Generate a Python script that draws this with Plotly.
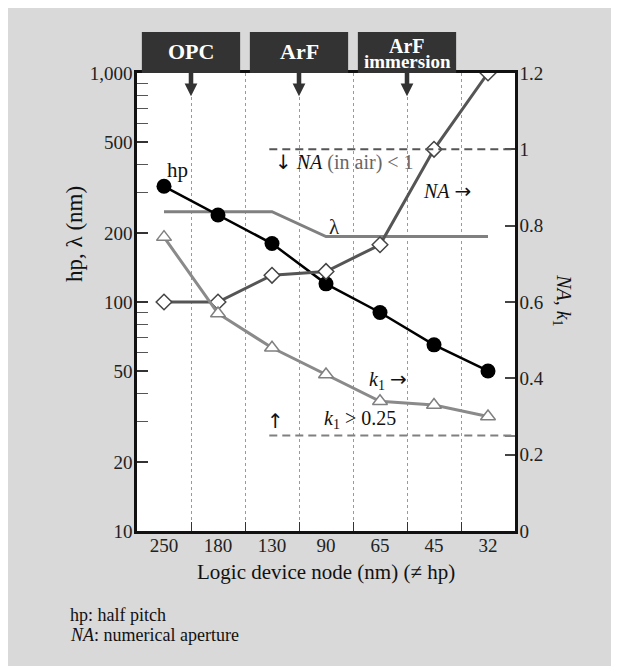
import plotly.graph_objects as go

# ---- data ----
nodes = ["250", "180", "130", "90", "65", "45", "32"]          # logic device node (nm)
hp = [320, 240, 180, 120, 90, 65, 50]                            # half pitch (nm)
wavelength = [248, 248, 248, 193, 193, 193, 193]                 # exposure wavelength (nm)
na = [0.60, 0.60, 0.67, 0.68, 0.75, 1.00, 1.20]                  # numerical aperture
k1 = [0.77, 0.57, 0.48, 0.41, 0.34, 0.33, 0.30]                  # k1 factor
na_limit = 1.0
k1_limit = 0.25
steps = ["OPC", "ArF", "ArF|immersion"]
step_at = [0.5, 2.5, 4.5]      # between nodes

left_ticks = [10, 20, 50, 100, 200, 500, 1000]
left_text = ["10", "20", "50", "100", "200", "500", "1,000"]
left_minor = [30, 40, 60, 70, 80, 90, 300, 400, 600, 700, 800, 900]
right_ticks = [0, 0.2, 0.4, 0.6, 0.8, 1.0, 1.2]
right_text = ["0", "0.2", "0.4", "0.6", "0.8", "1", "1.2"]

FONT = "Liberation Serif"
ARW = "font-family:'DejaVu Sans'"
xi = list(range(len(nodes)))

fig = go.Figure()
fig.add_trace(go.Scatter(x=xi, y=wavelength, mode="lines",
                         line=dict(color="#808080", width=3), yaxis="y", name="λ"))
fig.add_trace(go.Scatter(x=xi, y=hp, mode="lines+markers",
                         line=dict(color="#000000", width=2.5),
                         marker=dict(symbol="circle", size=15, color="#000000"),
                         yaxis="y", name="hp"))
fig.add_trace(go.Scatter(x=xi, y=na, mode="lines+markers",
                         line=dict(color="#555555", width=3),
                         marker=dict(symbol="diamond", size=12, color="white",
                                     line=dict(color="#444444", width=1.5)),
                         yaxis="y2", name="NA"))
fig.add_trace(go.Scatter(x=xi, y=k1, mode="lines+markers",
                         line=dict(color="#8a8a8a", width=3),
                         marker=dict(symbol="triangle-up", size=13, color="white",
                                     line=dict(color="#808080", width=1.5)),
                         yaxis="y2", name="k1"))

shapes = []
# threshold dashed lines
shapes.append(dict(type="line", xref="x", yref="y2", x0=1.95, x1=6.5, y0=na_limit, y1=na_limit,
                   line=dict(color="#555555", width=2, dash="8px,5px")))
shapes.append(dict(type="line", xref="x", yref="y2", x0=1.95, x1=6.5, y0=k1_limit, y1=k1_limit,
                   line=dict(color="#808080", width=2, dash="8px,5px")))
# process boxes and arrows
for c in step_at:
    shapes.append(dict(type="rect", xref="x", yref="paper", x0=c - 0.91, x1=c + 0.91,
                       y0=1.0, y1=1.0895, fillcolor="#333333", line=dict(width=0)))
    sw, hw = 0.042, 0.118
    path = (f"M {c - sw},1.0 L {c + sw},1.0 L {c + sw},0.977 L {c + hw},0.977 "
            f"L {c},0.949 L {c - hw},0.977 L {c - sw},0.977 Z")
    shapes.append(dict(type="path", xref="x", yref="paper", path=path,
                       fillcolor="#333333", line=dict(width=0)))

ann = []
def A(**kw):
    base = dict(showarrow=False, xanchor="center", yanchor="middle",
                font=dict(family=FONT, size=20, color="#111111"))
    if "font" in kw:
        f = dict(base["font"]); f.update(kw.pop("font")); base["font"] = f
    base.update(kw)
    ann.append(base)

# box labels
for label, c in zip(steps, step_at):
    parts = label.split("|")
    if len(parts) == 1:
        A(x=c, y=1.0465, xref="x", yref="paper", text=f"<b>{parts[0]}</b>",
          font=dict(size=22, color="white"))
    else:
        A(x=c, y=1.0585, xref="x", yref="paper", text=f"<b>{parts[0]}</b>",
          font=dict(size=20, color="white"))
        A(x=c, y=1.0247, xref="x", yref="paper", text=f"<b>{parts[1]}</b>",
          font=dict(size=19, color="white"))

# series labels
A(x=0.244, y=2.576, xref="x", yref="y", text="hp", font=dict(size=21))
A(x=3.157, y=2.326, xref="x", yref="y", text="λ", font=dict(size=21, color="#222222"))
A(x=2.01, y=0.9675, xref="x", yref="y2", xanchor="left",
  text=f"<span style=\"{ARW};color:#111\">↓</span> <i><span style='color:#111'>NA</span></i> (in air) < 1",
  font=dict(color="#666666"))
A(x=4.75, y=0.891, xref="x", yref="y2", xanchor="left",
  text=f"<i>NA</i> <span style=\"{ARW}\">→</span>")
A(x=3.763, y=0.3956, xref="x", yref="y2", xanchor="left",
  text=f"<i>k</i><sub>1</sub> <span style=\"{ARW}\">→</span>")
A(x=2.065, y=0.288, xref="x", yref="y2", text=f"<span style=\"{ARW}\">↑</span>")
A(x=2.93, y=0.293, xref="x", yref="y2", xanchor="left", text="<i>k</i><sub>1</sub> > 0.25")

# axis titles
A(x=-0.164, y=0.6485, xref="paper", yref="paper", text="hp, λ (nm)", textangle=-90,
  font=dict(size=23))
A(x=1.127, y=0.504, xref="paper", yref="paper", text="<i>NA</i>, <i>k</i><sub>1</sub>",
  textangle=90)
A(x=0.5, y=-0.0895, xref="paper", yref="paper", text="Logic device node (nm) (≠ hp)",
  font=dict(size=21))

# footnotes
A(x=-0.1825, y=-0.1834, xref="paper", yref="paper", xanchor="left",
  text="hp: half pitch", font=dict(size=18))
A(x=-0.1825, y=-0.2271, xref="paper", yref="paper", xanchor="left",
  text="<i>NA</i>: numerical aperture", font=dict(size=18))

tickfont = dict(family=FONT, size=19, color="#222222")
fig.update_layout(
    width=619, height=666,
    margin=dict(l=129, r=112, t=65, b=143, pad=0),
    paper_bgcolor="#d9d9d9", plot_bgcolor="white",
    showlegend=False,
    font=dict(family=FONT),
    shapes=shapes, annotations=ann,
    xaxis=dict(range=[-0.5, 6.5], tickvals=xi, ticktext=nodes, ticks="", showgrid=False,
               zeroline=False, showline=True, linecolor="#111111", linewidth=2.5, mirror=True,
               tickfont=tickfont,
               minor=dict(tickmode="array", tickvals=[0.5, 1.5, 2.5, 3.5, 4.5, 5.5],
                          ticks="inside", ticklen=9, tickcolor="#333333", tickwidth=1,
                          showgrid=True, gridcolor="#9a9a9a", griddash="dot", gridwidth=1)),
    yaxis=dict(type="log", range=[1, 3], tickvals=left_ticks, ticktext=left_text,
               ticks="inside", ticklen=11, tickcolor="#333333", tickwidth=1.5,
               showgrid=False, zeroline=False, showline=True, linecolor="#111111",
               linewidth=2.5, tickfont=tickfont,
               minor=dict(tickmode="array", tickvals=left_minor, ticks="inside",
                          ticklen=11, tickcolor="#555555", tickwidth=1.2, showgrid=False)),
    yaxis2=dict(overlaying="y", side="right", range=[0, 1.2], tickvals=right_ticks,
                ticktext=right_text, ticks="inside", ticklen=10, tickcolor="#444444",
                tickwidth=1.5, showgrid=False, zeroline=False, showline=True,
                linecolor="#111111", linewidth=2.5, tickfont=tickfont,
                minor=dict(tickmode="array", tickvals=[k1_limit], ticks="inside",
                           ticklen=10, tickcolor="#808080", tickwidth=1.5, showgrid=False)),
)

# pull tick labels a little closer to the frame, if supported
for key, val in (("xaxis_ticklabelstandoff", -5), ("yaxis_ticklabelstandoff", -2),
                 ("yaxis2_ticklabelstandoff", -2)):
    try:
        fig.update_layout(**{key: val})
    except Exception:
        pass

fig.write_html("out.html")
